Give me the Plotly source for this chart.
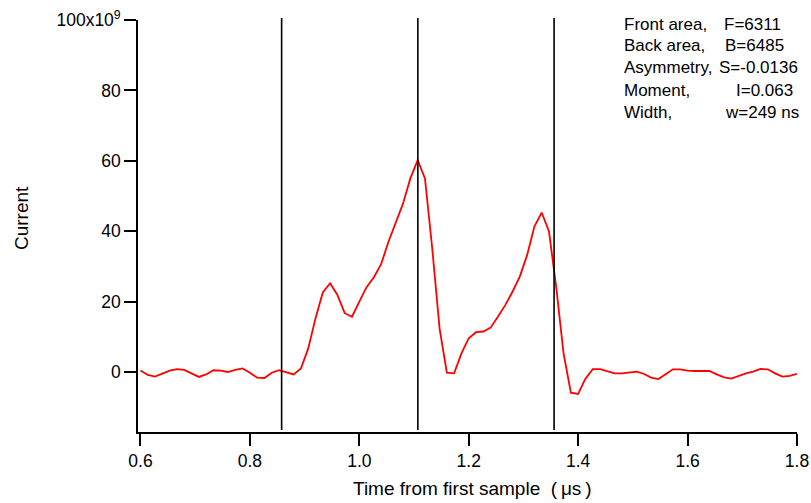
import plotly.graph_objects as go

time_us = [0.6000, 0.6133, 0.6267, 0.6400, 0.6533, 0.6667, 0.6800, 0.6933, 0.7067, 0.7200,
           0.7333, 0.7467, 0.7600, 0.7733, 0.7867, 0.8000, 0.8133, 0.8267, 0.8400, 0.8533,
           0.8667, 0.8800, 0.8933, 0.9067, 0.9200, 0.9333, 0.9467, 0.9600, 0.9733, 0.9867,
           1.0000, 1.0133, 1.0267, 1.0400, 1.0533, 1.0667, 1.0800, 1.0933, 1.1067, 1.1200,
           1.1333, 1.1467, 1.1600, 1.1733, 1.1867, 1.2000, 1.2133, 1.2267, 1.2400, 1.2533,
           1.2667, 1.2800, 1.2933, 1.3067, 1.3200, 1.3333, 1.3467, 1.3600, 1.3733, 1.3867,
           1.4000, 1.4133, 1.4267, 1.4400, 1.4533, 1.4667, 1.4800, 1.4933, 1.5067, 1.5200,
           1.5333, 1.5467, 1.5600, 1.5733, 1.5867, 1.6000, 1.6133, 1.6267, 1.6400, 1.6533,
           1.6667, 1.6800, 1.6933, 1.7067, 1.7200, 1.7333, 1.7467, 1.7600, 1.7733, 1.7867,
           1.8000]

current_e9 = [0.4, -0.85, -1.3, -0.4, 0.4, 0.8, 0.6, -0.4, -1.4, -0.7,
              0.5, 0.4, 0.0, 0.6, 1.0, -0.2, -1.6, -1.7, -0.2, 0.5,
              0.0, -0.7, 1.0, 6.7, 15.3, 22.6, 25.2, 21.9, 16.7, 15.7,
              20.0, 24.1, 26.9, 30.7, 37.0, 42.2, 47.9, 55.0, 60.2, 55.0,
              35.1, 12.4, -0.2, -0.4, 5.3, 9.6, 11.3, 11.5, 12.6, 15.7,
              19.0, 22.8, 27.1, 33.2, 41.3, 45.3, 39.9, 24.0, 5.3, -5.9,
              -6.25, -1.9, 0.8, 0.8, 0.1, -0.4, -0.4, -0.1, 0.1, -0.5,
              -1.6, -2.0, -0.57, 0.76, 0.76, 0.37, 0.28, 0.37, 0.28, -0.66,
              -1.5, -1.9, -1.1, -0.4, 0.1, 0.85, 0.76, -0.4, -1.3, -1.1,
              -0.5]

marker_times = [0.858, 1.107, 1.356]

y_tickvals = [0, 20, 40, 60, 80, 100]
y_ticktext = ["0", "20", "40", "60", "80", "100x10<sup>9</sup>"]
x_tickvals = [0.6, 0.8, 1.0, 1.2, 1.4, 1.6, 1.8]

x_title = "Time from first sample  (\u2009\u03bcs\u2009)"
y_title = "Current"

stat_labels = ["Front area,", "Back area,", "Asymmetry,", "Moment,", "Width,"]
stat_values = ["F=6311", "B=6485", "S=-0.0136", "I=0.063", "w=249 ns"]

FONT = "Liberation Sans, Arial, sans-serif"
W, H = 811, 503
ML, MR, MT, MB = 138, 14, 20, 71
PW, PH = W - ML - MR, H - MT - MB


def px_x(p):
    return (p - ML) / PW


def px_y(p):
    return 1 - (p - MT) / PH


fig = go.Figure()
fig.add_trace(go.Scatter(x=time_us, y=current_e9, mode="lines",
                         line=dict(color="#ff0000", width=1.8), showlegend=False))

for t in marker_times:
    fig.add_shape(type="line", xref="x", yref="paper", x0=t, x1=t, y0=0.005, y1=1.005,
                  line=dict(color="black", width=1.6))

value_x = [722, 723, 717, 734, 723]
for i, (lab, val) in enumerate(zip(stat_labels, stat_values)):
    yp = px_y(24 + 22 * i)
    fig.add_annotation(xref="paper", yref="paper", x=px_x(622), y=yp,
                       text=lab, showarrow=False, xanchor="left", yanchor="middle",
                       font=dict(family=FONT, size=17, color="black"))
    fig.add_annotation(xref="paper", yref="paper", x=px_x(value_x[i]), y=yp,
                       text=val, showarrow=False, xanchor="left", yanchor="middle",
                       font=dict(family=FONT, size=17, color="black"))

fig.add_annotation(xref="paper", yref="paper", x=px_x(472), y=px_y(488), text=x_title,
                   showarrow=False, xanchor="center", yanchor="middle",
                   font=dict(family=FONT, size=19, color="black"))
fig.add_annotation(xref="paper", yref="paper", x=px_x(21), y=px_y(218), text=y_title,
                   textangle=-90, showarrow=False, xanchor="center", yanchor="middle",
                   font=dict(family=FONT, size=19, color="black"))

fig.update_layout(
    width=W, height=H,
    margin=dict(l=ML, r=MR, t=MT, b=MB),
    plot_bgcolor="white", paper_bgcolor="white",
    font=dict(family=FONT, size=17.5, color="black"),
    xaxis=dict(range=[0.5955, 1.8], tickvals=x_tickvals, tickformat=".1f", automargin=False,
               showgrid=False, zeroline=False, showline=True, linecolor="black", linewidth=1.6,
               ticks="outside", ticklen=12, tickwidth=1.6, tickcolor="black"),
    yaxis=dict(range=[-17.05, 100], tickvals=y_tickvals, ticktext=y_ticktext, automargin=False,
               showgrid=False, zeroline=False, showline=True, linecolor="black", linewidth=1.6,
               ticks="outside", ticklen=12, tickwidth=1.6, tickcolor="black"),
)

fig.write_html("out.html")
